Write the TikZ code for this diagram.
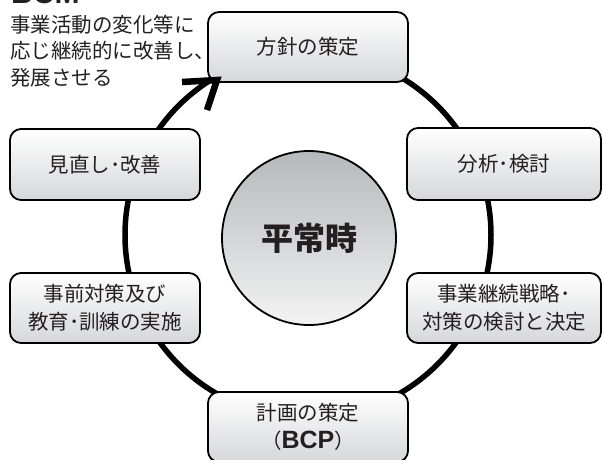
\documentclass[tikz,border=0pt]{standalone}
\usepackage{fontspec}
\newfontfamily\jp{Noto Sans CJK JP}
\newfontfamily\lat{Liberation Sans}
\definecolor{boxbot}{RGB}{214,215,217}
\definecolor{circtop}{RGB}{182,184,187}
\definecolor{circbot}{RGB}{243,243,243}
\definecolor{txt}{RGB}{35,31,32}
\tikzset{
  stagebox/.style={draw=black, line width=1.8pt, rounded corners=11pt,
    top color=white, bottom color=boxbot, text=txt, align=center,
    font=\jp\fontsize{20.5}{28}\selectfont, inner sep=0pt},
  ring/.style={draw=black, line width=5.5pt},
  chevron/.style={draw=black, line width=6.5pt, miter limit=10},
}
\begin{document}
\begin{tikzpicture}[x=1pt,y=-1pt]
\useasboundingbox (0,0) rectangle (603,459);
\clip (0,0) rectangle (603,459);
% ring
\coordinate (c) at (308,235);
\draw[ring] (c) circle[radius=183];
% center
\node[circle, draw=black, line width=1.8pt, minimum size=174pt,
  top color=circtop, bottom color=circbot, text=txt,
  font=\jp\bfseries\fontsize{32}{32}\selectfont] (core) at (309,238) {平常時};
% boxes
\node[stagebox, minimum width=200pt, minimum height=70pt] (policy) at (308,47) {方針の策定};
\node[stagebox, minimum width=194pt, minimum height=72pt] (analysis) at (504,164) {分析･検討};
\node[stagebox, minimum width=194pt, minimum height=70pt] (strategy) at (504,308) {事業継続戦略･\\対策の検討と決定};
\node[stagebox, minimum width=200pt, minimum height=70pt] (plan) at (308,427) {計画の策定\\（{\lat\bfseries\fontsize{25}{28}\selectfont BCP}）};
\node[stagebox, minimum width=190pt, minimum height=70pt] (prep) at (105,308) {事前対策及び\\教育･訓練の実施};
\node[stagebox, minimum width=190pt, minimum height=71pt] (review) at (105,164.5) {見直し･改善};
% arrowhead at the ring entering the policy box
\coordinate (tip) at (217,80);
\coordinate (armA) at (182,82);
\coordinate (armB) at (207,110);
\draw[chevron] (armA) -- (tip) -- (armB);
% title texts
\node[anchor=base west, inner sep=0pt, text=txt,
  font=\lat\bfseries\fontsize{30}{30}\selectfont] (bcm) at (11,3) {BCM};
\node[anchor=west, inner sep=0pt, align=left, text=txt,
  font=\jp\fontsize{20.5}{26.5}\selectfont] (note) at (10,51)
  {事業活動の変化等に\\応じ継続的に改善し、\\発展させる};
\end{tikzpicture}
\end{document}
